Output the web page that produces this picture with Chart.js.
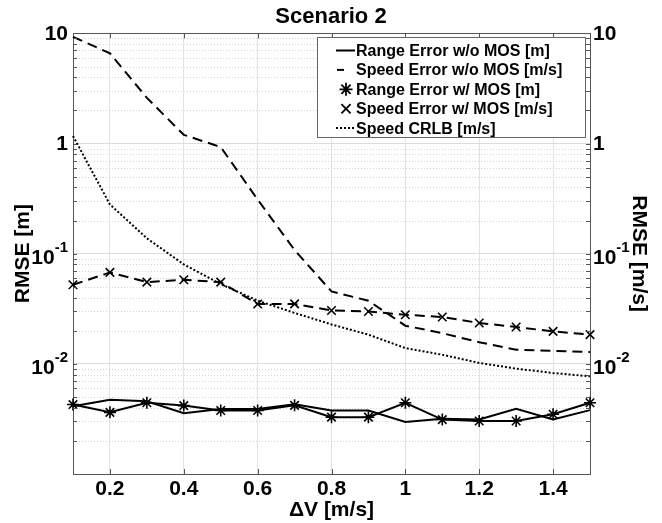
<!DOCTYPE html>
<html>
<head>
<meta charset="utf-8">
<title>Scenario 2</title>
<script src="https://cdn.jsdelivr.net/npm/chart.js@4.4.1/dist/chart.umd.min.js"></script>
<style>
  html, body { margin: 0; padding: 0; background: #fff; }
  #wrap { width: 662px; height: 523px; }
</style>
</head>
<body>
<div id="wrap"><canvas id="rmse" width="662" height="523"></canvas></div>
<script>
// ΔV sweep [m/s]
const deltaV = [0.1, 0.2, 0.3, 0.4, 0.5, 0.6, 0.7, 0.8, 0.9, 1.0, 1.1, 1.2, 1.3, 1.4, 1.5];

// RMSE curves
const rangeErrNoMos = [0.00413, 0.00473, 0.00458, 0.00356, 0.0039, 0.0039, 0.0043, 0.00377, 0.00377, 0.00297, 0.00318, 0.00312, 0.0039, 0.00312, 0.0038];
const speedErrNoMos = [9.3, 6.6, 2.6, 1.2, 0.93, 0.31, 0.108, 0.0454, 0.0374, 0.0222, 0.019, 0.0157, 0.01345, 0.0131, 0.0128];
const rangeErrMos = [0.00427, 0.00363, 0.00443, 0.00418, 0.00377, 0.00377, 0.0042, 0.00328, 0.00328, 0.00443, 0.00312, 0.00303, 0.00303, 0.00349, 0.00443];
const speedErrMos = [0.0522, 0.0676, 0.0552, 0.058, 0.0552, 0.0349, 0.035, 0.0305, 0.0299, 0.0279, 0.0266, 0.0235, 0.0216, 0.0197, 0.0184];
const speedCrlb = [1.17, 0.28, 0.138, 0.08, 0.053, 0.0375, 0.029, 0.0228, 0.0184, 0.0139, 0.0121, 0.0102, 0.00905, 0.00826, 0.0077];

const xTicks = [0.2, 0.4, 0.6, 0.8, 1, 1.2, 1.4];
const yMin = 0.001;
const yMax = 10;
const yLabelValues = [10, 1, 0.1, 0.01];

const FONT = '"Liberation Sans", Arial, Helvetica, sans-serif';
Chart.defaults.font.family = FONT;
Chart.defaults.color = '#000';

const AXIS = '#555';

function pts(ys) {
    return deltaV.map((x, i) => ({ x: x, y: ys[i] }));
}

function isMajor(v) {
    const l = Math.log10(v);
    return Math.abs(l - Math.round(l)) < 1e-9;
}

// 1..9 per decade, like a MATLAB log axis
function logTicks() {
    const out = [];
    for (let e = Math.round(Math.log10(yMin)); e < Math.round(Math.log10(yMax)); e++) {
        for (let m = 1; m < 10; m++) out.push({ value: m * Math.pow(10, e) });
    }
    out.push({ value: yMax });
    return out;
}

function marker(ctx, style, x, y, r) {
    const d = r * Math.SQRT1_2;
    ctx.beginPath();
    if (style === 'star') {
        ctx.moveTo(x - r, y); ctx.lineTo(x + r, y);
        ctx.moveTo(x, y - r); ctx.lineTo(x, y + r);
    }
    ctx.moveTo(x - d, y - d); ctx.lineTo(x + d, y + d);
    ctx.moveTo(x - d, y + d); ctx.lineTo(x + d, y - d);
    ctx.stroke();
}

// "10", "1", "10^-1" ... with a raised exponent
function powLabel(ctx, v, x, y, align) {
    const exp = Math.round(Math.log10(v));
    const main = exp >= 0 ? String(v) : '10';
    const sup = exp >= 0 ? '' : String(exp);
    const big = 'bold 21px ' + FONT;
    const small = 'bold 15px ' + FONT;
    ctx.font = big;
    const wMain = ctx.measureText(main).width;
    ctx.font = small;
    const wSup = sup ? ctx.measureText(sup).width : 0;
    const x0 = align === 'right' ? x - wMain - wSup : x;
    ctx.textAlign = 'left';
    ctx.fillStyle = '#000';
    if (!sup) {
        ctx.font = big;
        ctx.textBaseline = 'middle';
        ctx.fillText(main, x0, y + 1);
        return;
    }
    ctx.textBaseline = 'alphabetic';
    ctx.font = big;
    ctx.fillText(main, x0, y + 10);
    ctx.font = small;
    ctx.fillText(sup, x0 + wMain, y - 2);
}

const axesDecor = {
    id: 'axesDecor',
    beforeDatasetsDraw(chart) {
        const { ctx, chartArea: a, scales } = chart;
        ctx.save();
        ctx.strokeStyle = '#d2d2d2';
        ctx.lineWidth = 1;
        ctx.setLineDash([1, 2]);
        scales.y.ticks.forEach(t => {
            if (isMajor(t.value)) return;
            const y = Math.round(scales.y.getPixelForValue(t.value)) + 0.5;
            ctx.beginPath();
            ctx.moveTo(a.left, y);
            ctx.lineTo(a.right, y);
            ctx.stroke();
        });
        ctx.restore();
    },
    afterDatasetsDraw(chart) {
        const { ctx, chartArea: a, scales } = chart;
        ctx.save();
        ctx.strokeStyle = AXIS;
        ctx.lineWidth = 1;
        // top edge of the box
        ctx.beginPath();
        ctx.moveTo(a.left, Math.round(a.top) + 0.5);
        ctx.lineTo(a.right, Math.round(a.top) + 0.5);
        ctx.stroke();
        // inward ticks
        ctx.beginPath();
        xTicks.forEach(v => {
            const x = Math.round(scales.x.getPixelForValue(v)) + 0.5;
            ctx.moveTo(x, a.bottom); ctx.lineTo(x, a.bottom - 5);
            ctx.moveTo(x, a.top); ctx.lineTo(x, a.top + 5);
        });
        scales.y.ticks.forEach(t => {
            const y = Math.round(scales.y.getPixelForValue(t.value)) + 0.5;
            ctx.moveTo(a.left, y); ctx.lineTo(a.left + 4, y);
            ctx.moveTo(a.right, y); ctx.lineTo(a.right - 4, y);
        });
        ctx.stroke();
        ctx.restore();
    },
    afterDraw(chart) {
        const { ctx, chartArea: a, scales } = chart;
        ctx.save();
        yLabelValues.forEach(v => {
            const y = scales.y.getPixelForValue(v);
            powLabel(ctx, v, a.left - 5, y, 'right');
        });
        yLabelValues.forEach(v => {
            const y = scales.y2.getPixelForValue(v);
            powLabel(ctx, v, a.right + 3, y, 'left');
        });
        ctx.restore();
    }
};

const legendBox = {
    id: 'legendBox',
    afterDraw(chart) {
        const { ctx, chartArea: a } = chart;
        const w = 268, h = 100, rowH = 19.4;
        const x0 = Math.round(a.right - 5 - w), y0 = Math.round(a.top + 4);
        ctx.save();
        ctx.fillStyle = '#fff';
        ctx.fillRect(x0, y0, w, h);
        ctx.strokeStyle = '#666';
        ctx.lineWidth = 1;
        ctx.strokeRect(x0 + 0.5, y0 + 0.5, w, h);
        chart.data.datasets.forEach((ds, i) => {
            const cy = y0 + 13.5 + i * rowH;
            const sx = x0 + 19, ex = x0 + 38, mx = x0 + 29;
            ctx.strokeStyle = '#000';
            ctx.lineWidth = 2;
            ctx.setLineDash([]);
            if (ds.sample === 'line') {
                ctx.beginPath(); ctx.moveTo(sx, cy); ctx.lineTo(ex, cy); ctx.stroke();
            } else if (ds.sample === 'dash') {
                ctx.beginPath(); ctx.moveTo(sx + 1, cy); ctx.lineTo(sx + 8, cy); ctx.stroke();
            } else if (ds.sample === 'dots') {
                ctx.setLineDash(ds.borderDash);
                ctx.beginPath(); ctx.moveTo(sx, cy); ctx.lineTo(ex, cy); ctx.stroke();
                ctx.setLineDash([]);
            } else {
                ctx.lineWidth = 1.8;
                marker(ctx, ds.pointStyle, mx, cy, ds.pointRadius + 0.5);
            }
            ctx.fillStyle = '#000';
            ctx.font = 'bold 16px ' + FONT;
            ctx.textAlign = 'left';
            ctx.textBaseline = 'middle';
            ctx.fillText(ds.label, x0 + 39, cy + 1);
        });
        ctx.restore();
    }
};

const lineBase = {
    borderColor: '#000',
    backgroundColor: '#000',
    borderWidth: 2,
    pointRadius: 0,
    fill: false,
    tension: 0,
    clip: false
};

new Chart(document.getElementById('rmse'), {
    type: 'line',
    data: {
        datasets: [
            Object.assign({}, lineBase, {
                label: 'Range Error w/o MOS [m]',
                data: pts(rangeErrNoMos),
                sample: 'line',
                yAxisID: 'y'
            }),
            Object.assign({}, lineBase, {
                label: 'Speed Error w/o MOS [m/s]',
                data: pts(speedErrNoMos),
                borderDash: [10, 6],
                sample: 'dash',
                yAxisID: 'y2'
            }),
            Object.assign({}, lineBase, {
                label: 'Range Error w/ MOS [m]',
                data: pts(rangeErrMos),
                pointStyle: 'star',
                pointRadius: 6,
                pointBorderWidth: 1.6,
                pointBorderColor: '#000',
                sample: 'marker',
                yAxisID: 'y'
            }),
            Object.assign({}, lineBase, {
                label: 'Speed Error w/ MOS [m/s]',
                data: pts(speedErrMos),
                borderDash: [10, 6],
                pointStyle: 'crossRot',
                pointRadius: 6,
                pointBorderWidth: 1.6,
                pointBorderColor: '#000',
                sample: 'marker',
                yAxisID: 'y2'
            }),
            Object.assign({}, lineBase, {
                label: 'Speed CRLB [m/s]',
                data: pts(speedCrlb),
                borderDash: [2, 2],
                sample: 'dots',
                yAxisID: 'y2'
            })
        ]
    },
    options: {
        responsive: false,
        animation: false,
        devicePixelRatio: 1,
        layout: { padding: 0 },
        plugins: {
            legend: { display: false },
            tooltip: { enabled: false },
            title: {
                display: true,
                text: 'Scenario 2',
                color: '#000',
                font: { size: 22, weight: 'bold' },
                padding: { top: 4, bottom: 3 }
            }
        },
        scales: {
            x: {
                type: 'linear',
                min: 0.1,
                max: 1.5,
                afterBuildTicks: s => { s.ticks = xTicks.map(v => ({ value: v })); },
                afterFit: s => { s.height = 49; },
                grid: { color: '#e2e2e2', drawTicks: false },
                border: { color: AXIS },
                ticks: {
                    autoSkip: false,
                    maxRotation: 0,
                    padding: 3,
                    color: '#000',
                    font: { size: 21, weight: 'bold' },
                    callback: v => String(Math.round(v * 10) / 10)
                },
                title: {
                    display: true,
                    text: 'ΔV [m/s]',
                    color: '#000',
                    font: { size: 21, weight: 'bold' },
                    padding: { top: 0, bottom: 0 }
                }
            },
            y: {
                type: 'logarithmic',
                position: 'left',
                min: yMin,
                max: yMax,
                afterBuildTicks: s => { s.ticks = logTicks(); },
                afterFit: s => { s.width = 73; },
                grid: {
                    drawTicks: false,
                    color: c => (c.tick && isMajor(c.tick.value)) ? '#dcdcdc' : 'rgba(0,0,0,0)'
                },
                border: { color: AXIS },
                ticks: { display: false },
                title: {
                    display: true,
                    text: 'RMSE [m]',
                    color: '#000',
                    font: { size: 21, weight: 'bold' },
                    padding: { top: 11, bottom: 0 }
                }
            },
            y2: {
                type: 'logarithmic',
                position: 'right',
                min: yMin,
                max: yMax,
                afterBuildTicks: s => { s.ticks = logTicks(); },
                afterFit: s => { s.width = 72; },
                grid: { drawOnChartArea: false, drawTicks: false },
                border: { color: AXIS },
                ticks: { display: false },
                title: {
                    display: true,
                    text: 'RMSE [m/s]',
                    color: '#000',
                    font: { size: 21, weight: 'bold' },
                    padding: { top: 11, bottom: 0 }
                }
            }
        }
    },
    plugins: [axesDecor, legendBox]
});
</script>
</body>
</html>
